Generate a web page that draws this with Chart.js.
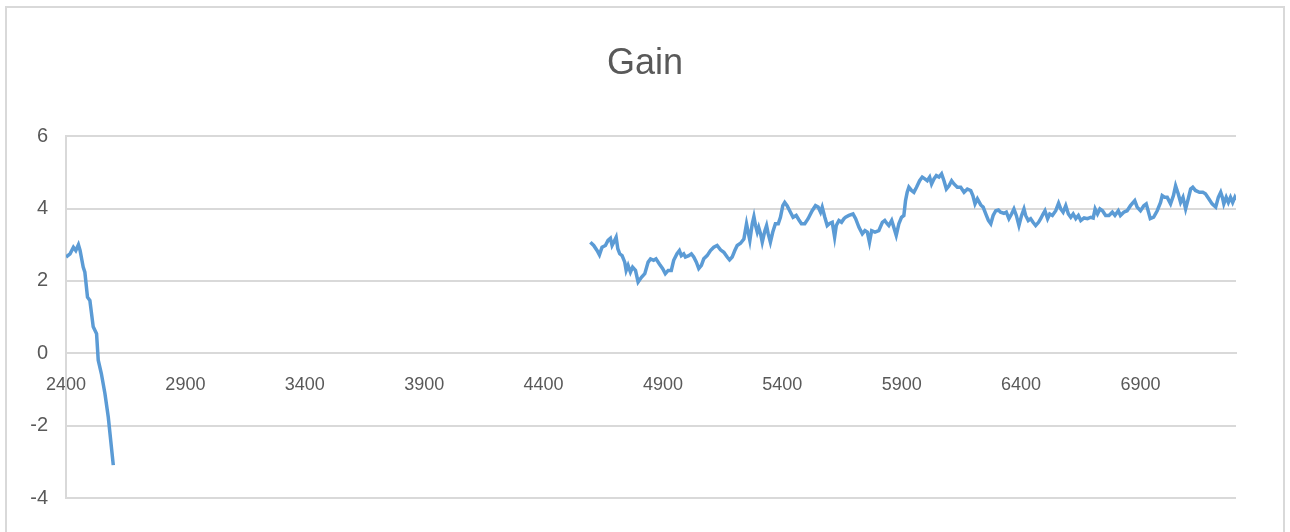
<!DOCTYPE html>
<html>
<head>
<meta charset="utf-8">
<script src="https://cdn.jsdelivr.net/npm/chart.js@4.4.1/dist/chart.umd.min.js"></script>
<style>
    html, body { margin: 0; padding: 0; background: #ffffff; }
    #frame {
        position: absolute; left: 5px; top: 6px; width: 1280px; height: 540px;
        border: 2px solid #d9d9d9; box-sizing: border-box;
    }
    #wrap { position: absolute; left: 0; top: 0; width: 1290px; height: 532px; }
</style>
</head>
<body>
<div id="frame"></div>
<div id="wrap"><canvas id="gainChart" width="1290" height="532"></canvas></div>
<script>
// Gain readings
const chartTitle = 'Gain';

// first run (falls off quickly)
const earlyX = [2400, 2417, 2431, 2441, 2452, 2459, 2472, 2479, 2490, 2500, 2514, 2528, 2535, 2548, 2563, 2577, 2598];
const earlyY = [2.66, 2.75, 2.93, 2.84, 3.0, 2.84, 2.38, 2.24, 1.55, 1.46, 0.73, 0.54, -0.19, -0.56, -1.11, -1.76, -3.09];

// second run, 4600 to the end
const lateX = [
    4596, 4610, 4624, 4634, 4645, 4659, 4670, 4680, 4687, 4694, 4704, 4711, 4719, 4729, 4740, 4746, 4754, 4764, 4773, 4785,
    4796, 4810, 4824, 4838, 4848, 4861, 4871, 4885, 4899, 4910, 4922, 4935, 4945, 4959, 4969, 4977, 4987, 4994, 5008, 5019,
    5029, 5040, 5050, 5061, 5071, 5085, 5099, 5113, 5127, 5141, 5155, 5169, 5179, 5190, 5201, 5211, 5225, 5239, 5250, 5257,
    5264, 5274, 5281, 5288, 5295, 5301, 5309, 5316, 5327, 5334, 5341, 5350, 5360, 5371, 5383, 5392, 5402, 5410, 5420, 5434,
    5445, 5458, 5469, 5480, 5494, 5508, 5525, 5539, 5550, 5560, 5567, 5578, 5588, 5598, 5609, 5619, 5626, 5637, 5648, 5658,
    5665, 5679, 5696, 5707, 5721, 5735, 5746, 5756, 5765, 5774, 5788, 5804, 5819, 5829, 5839, 5846, 5858, 5867, 5877, 5888,
    5899, 5909, 5916, 5923, 5930, 5941, 5951, 5962, 5975, 5986, 5997, 6007, 6017, 6025, 6035, 6045, 6056, 6067, 6077, 6087,
    6098, 6109, 6119, 6133, 6147, 6161, 6175, 6189, 6198, 6207, 6217, 6231, 6241, 6252, 6263, 6273, 6283, 6294, 6305, 6314,
    6328, 6338, 6349, 6360, 6370, 6380, 6391, 6402, 6412, 6419, 6430, 6440, 6450, 6461, 6473, 6482, 6492, 6500, 6511, 6520,
    6531, 6545, 6557, 6566, 6576, 6587, 6598, 6608, 6618, 6629, 6640, 6650, 6664, 6678, 6692, 6702, 6710, 6720, 6730, 6741,
    6754, 6768, 6782, 6793, 6807, 6816, 6830, 6844, 6858, 6876, 6886, 6900, 6914, 6924, 6932, 6941, 6955, 6970, 6984, 6991,
    7002, 7012, 7026, 7038, 7047, 7058, 7068, 7078, 7089, 7100, 7110, 7119, 7130, 7147, 7161, 7172, 7186, 7200, 7215, 7226,
    7236, 7243, 7249, 7259, 7268, 7277, 7286, 7295, 7300
];
const lateY = [
    3.07, 2.98, 2.84, 2.72, 2.93, 2.98, 3.12, 3.18, 2.98, 3.07, 3.21, 2.89, 2.75, 2.70, 2.52, 2.29, 2.43, 2.24, 2.38, 2.29,
    1.97, 2.10, 2.20, 2.52, 2.61, 2.57, 2.61, 2.47, 2.34, 2.20, 2.29, 2.29, 2.57, 2.75, 2.84, 2.70, 2.75, 2.66, 2.70, 2.75,
    2.66, 2.52, 2.34, 2.43, 2.61, 2.70, 2.84, 2.93, 2.98, 2.86, 2.79, 2.66, 2.58, 2.66, 2.84, 2.98, 3.04, 3.16, 3.58, 3.35,
    3.12, 3.58, 3.78, 3.53, 3.35, 3.48, 3.30, 3.07, 3.39, 3.53, 3.30, 3.07, 3.35, 3.58, 3.58, 3.76, 4.08, 4.17, 4.08, 3.90,
    3.76, 3.81, 3.69, 3.58, 3.58, 3.72, 3.94, 4.08, 4.04, 3.90, 4.04, 3.76, 3.53, 3.59, 3.62, 3.21, 3.53, 3.67, 3.62, 3.72,
    3.76, 3.81, 3.85, 3.72, 3.48, 3.30, 3.39, 3.35, 3.07, 3.39, 3.35, 3.39, 3.62, 3.67, 3.58, 3.53, 3.67, 3.48, 3.26, 3.58,
    3.76, 3.81, 4.22, 4.45, 4.59, 4.50, 4.45, 4.59, 4.77, 4.87, 4.82, 4.77, 4.87, 4.68, 4.82, 4.91, 4.87, 4.96, 4.77, 4.54,
    4.63, 4.77, 4.68, 4.59, 4.59, 4.45, 4.54, 4.50, 4.36, 4.13, 4.27, 4.10, 4.04, 3.85, 3.67, 3.58, 3.81, 3.94, 3.96, 3.90,
    3.87, 3.90, 3.72, 3.85, 3.99, 3.81, 3.53, 3.81, 3.99, 3.81, 3.67, 3.72, 3.62, 3.53, 3.62, 3.72, 3.85, 3.94, 3.72, 3.85,
    3.81, 3.94, 4.15, 3.99, 3.90, 4.08, 3.85, 3.76, 3.85, 3.72, 3.81, 3.67, 3.74, 3.72, 3.76, 3.74, 3.99, 3.85, 3.99, 3.94,
    3.81, 3.81, 3.90, 3.81, 3.94, 3.81, 3.90, 3.94, 4.08, 4.22, 4.04, 3.94, 4.08, 4.13, 3.94, 3.72, 3.76, 3.94, 4.17, 4.36,
    4.31, 4.31, 4.13, 4.36, 4.63, 4.41, 4.17, 4.31, 3.99, 4.27, 4.54, 4.59, 4.50, 4.45, 4.45, 4.41, 4.27, 4.13, 4.04, 4.31,
    4.45, 4.31, 4.13, 4.31, 4.17, 4.31, 4.17, 4.31, 4.24
];

// axis ticks
const xTicks = [2400, 2900, 3400, 3900, 4400, 4900, 5400, 5900, 6400, 6900];
const yTicks = [-4, -2, 0, 2, 4, 6];

const toPoints = (xs, ys) => xs.map((x, i) => ({ x: x, y: ys[i] }));

const lineColor = '#5b9bd5';
const gridColor = '#d9d9d9';
const textColor = '#595959';
const fontFamily = "'Liberation Sans', Arial, sans-serif";

const ctx = document.getElementById('gainChart');
new Chart(ctx, {
    type: 'line',
    data: {
        datasets: [
            {
                data: toPoints(earlyX, earlyY),
                borderColor: lineColor,
                borderWidth: 3.5,
                pointRadius: 0,
                tension: 0,
                fill: false
            },
            {
                data: toPoints(lateX, lateY),
                borderColor: lineColor,
                borderWidth: 3.5,
                pointRadius: 0,
                tension: 0,
                fill: false
            }
        ]
    },
    options: {
        responsive: false,
        animation: false,
        events: [],
        layout: { padding: { top: 32, right: 0, bottom: 34, left: 0 } },
        plugins: {
            legend: { display: false },
            tooltip: { enabled: false },
            title: {
                display: true,
                text: chartTitle,
                color: textColor,
                font: { family: fontFamily, size: 36, weight: 'normal' },
                padding: { top: 10, bottom: 51 }
            }
        },
        scales: {
            x: {
                type: 'linear',
                position: { y: 0 },
                min: 2400,
                max: 7300,
                afterBuildTicks: (scale) => { scale.ticks = xTicks.map(v => ({ value: v })); },
                grid: { display: false, drawTicks: false },
                border: { display: true, color: gridColor, width: 2 },
                ticks: {
                    color: textColor,
                    font: { family: fontFamily, size: 18 },
                    padding: 21,
                    maxRotation: 0,
                    autoSkip: false,
                    callback: (value) => String(value)
                }
            },
            y: {
                min: -4,
                max: 6,
                afterBuildTicks: (scale) => { scale.ticks = yTicks.map(v => ({ value: v })); },
                afterFit: (scale) => { scale.width = 66; },
                grid: { color: gridColor, lineWidth: 2, drawTicks: false },
                border: { display: true, color: gridColor, width: 2 },
                ticks: {
                    color: textColor,
                    font: { family: fontFamily, size: 20 },
                    padding: 18,
                    callback: (value) => String(value)
                }
            },
            // empty right-hand spacer so the title centres on the whole frame
            yRight: {
                position: 'right',
                display: true,
                min: -4,
                max: 6,
                afterFit: (scale) => { scale.width = 54; },
                grid: { display: false, drawTicks: false },
                border: { display: false },
                ticks: { display: false }
            }
        }
    }
});
</script>
</body>
</html>
